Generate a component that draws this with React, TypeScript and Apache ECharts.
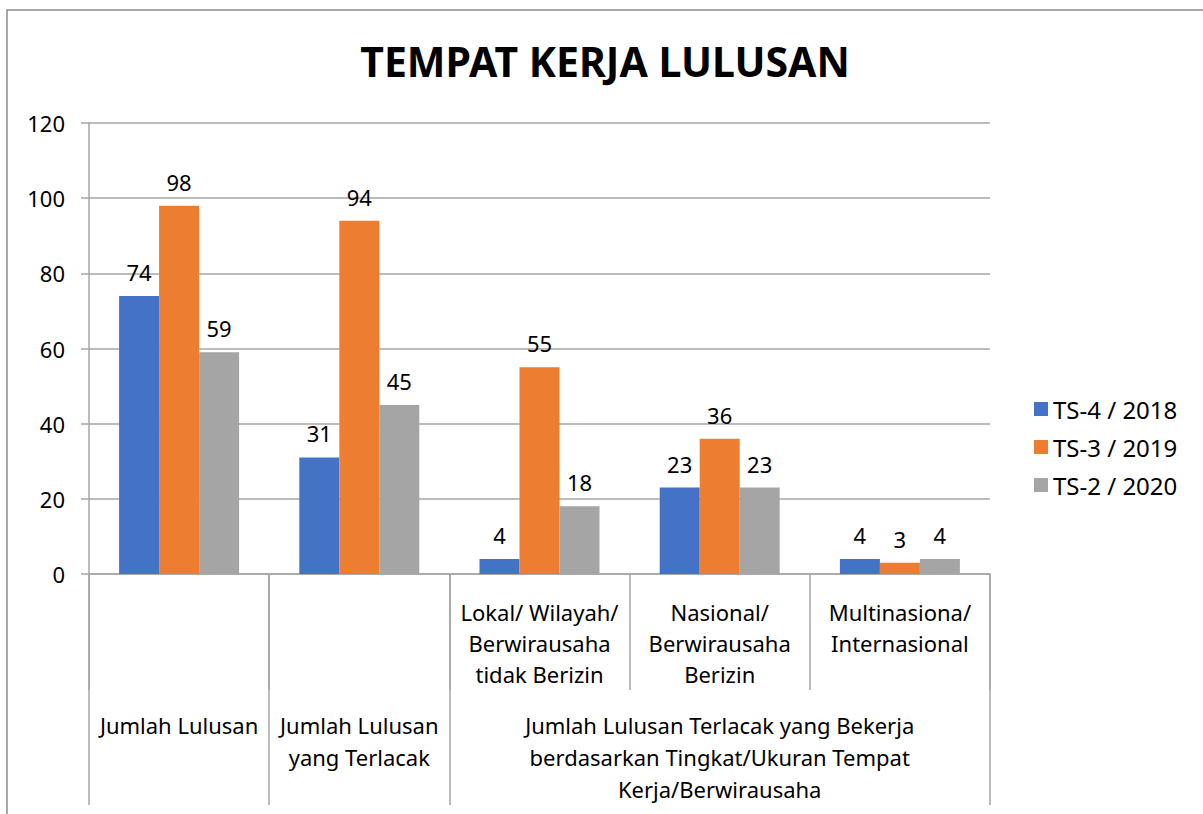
import React, { useEffect, useRef } from "react";
import * as echarts from "echarts";

const categories = [
  "Jumlah Lulusan",
  "Jumlah Lulusan yang Terlacak",
  "Lokal/ Wilayah/\nBerwirausaha\ntidak Berizin",
  "Nasional/\nBerwirausaha\nBerizin",
  "Multinasiona/\nInternasional",
];
const level1Labels = ["", "", "Lokal/ Wilayah/\nBerwirausaha\ntidak Berizin", "Nasional/\nBerwirausaha\nBerizin", "Multinasiona/\nInternasional"];
const level2Labels = [
  "Jumlah Lulusan",
  "Jumlah Lulusan\nyang Terlacak",
  "Jumlah Lulusan Terlacak yang Bekerja\nberdasarkan Tingkat/Ukuran Tempat\nKerja/Berwirausaha",
];
const level2Spans = [1, 1, 3];
const seriesNames = ["TS-4 / 2018", "TS-3 / 2019", "TS-2 / 2020"];
const ts4 = [74, 31, 4, 23, 4];
const ts3 = [98, 94, 55, 36, 3];
const ts2 = [59, 45, 18, 23, 4];
const colors = ["#4472C4", "#ED7D31", "#A5A5A5"];

const FONT = "'Noto Sans', sans-serif";
const GRAY = "#a6a6a6";

export default function App() {
  const ref = useRef<HTMLDivElement>(null);
  useEffect(() => {
    if (!ref.current) return;
    const chart = echarts.init(ref.current, undefined, { renderer: "svg" });
    const bounds: number[] = [0];
    const centers: number[] = [];
    level2Spans.forEach((s) => {
      const start = bounds[bounds.length - 1];
      centers.push(start + s / 2);
      bounds.push(start + s);
    });
    const values = [ts4, ts3, ts2];
    chart.setOption({
      animation: false,
      textStyle: { fontFamily: FONT },
      title: {
        text: "TEMPAT KERJA LULUSAN",
        left: 600,
        textAlign: "center",
        top: 35,
        textStyle: { fontSize: 41, fontWeight: "bold", color: "#000", fontFamily: FONT },
      },
      graphic: [
        {
          type: "rect",
          shape: { x: 7, y: 10, width: 1220, height: 830 },
          style: { fill: "none", stroke: "#8c8c8c", lineWidth: 1.5 },
          silent: true,
        },
      ],
      legend: {
        orient: "vertical",
        left: 1029,
        top: 392,
        itemWidth: 14,
        itemHeight: 14,
        itemGap: 14,
        icon: "rect",
        textStyle: { fontSize: 24, color: "#000", fontFamily: FONT },
        data: seriesNames,
      },
      grid: { left: 89, right: 213, top: 123, bottom: 240, containLabel: false },
      xAxis: [
        {
          type: "category",
          data: categories,
          position: "bottom",
          axisLine: { show: true, lineStyle: { color: GRAY, width: 1.5 } },
          axisTick: { show: true, alignWithLabel: false, interval: 0, length: 116, lineStyle: { color: GRAY, width: 1.5 } },
          axisLabel: {
            interval: 0,
            margin: 22,
            verticalAlign: "top",
            lineHeight: 31,
            fontSize: 22,
            color: "#000",
            fontFamily: FONT,
            formatter: (_v: string, i: number) => level1Labels[i],
          },
          splitLine: { show: false },
        },
        {
          type: "value",
          min: 0,
          max: categories.length,
          position: "bottom",
          axisLine: { show: false },
          splitLine: { show: false },
          axisTick: {
            show: true,
            length: 231,
            customValues: bounds,
            lineStyle: { color: GRAY, width: 1.5 },
          },
          axisLabel: {
            show: true,
            customValues: centers,
            margin: 135,
            verticalAlign: "top",
            lineHeight: 32,
            fontSize: 22,
            color: "#000",
            align: "center",
            fontFamily: FONT,
            formatter: (v: number) => {
              const idx = centers.findIndex((c) => Math.abs(c - v) < 1e-6);
              return idx >= 0 ? level2Labels[idx] : "";
            },
          },
        },
      ],
      yAxis: {
        type: "value",
        min: 0,
        max: 120,
        interval: 20,
        axisLine: { show: true, lineStyle: { color: GRAY, width: 1.5 } },
        axisTick: { show: true, length: 8, lineStyle: { color: GRAY, width: 1.5 } },
        axisLabel: { fontSize: 22, color: "#000", margin: 24, fontFamily: FONT },
        splitLine: { show: true, lineStyle: { color: GRAY, width: 1.5 } },
      },
      series: values.map((d, i) => ({
        name: seriesNames[i],
        type: "bar",
        data: d,
        xAxisIndex: 0,
        barWidth: 40,
        barGap: "0%",
        itemStyle: { color: colors[i] },
        label: {
          show: true,
          position: "top",
          distance: 13,
          fontSize: 22,
          color: "#000",
          fontFamily: FONT,
        },
      })),
    });
    return () => chart.dispose();
  }, []);
  return (
    <div
      ref={ref}
      style={{ position: "fixed", left: 0, top: 0, width: 1203, height: 814, background: "#fff" }}
    />
  );
}
